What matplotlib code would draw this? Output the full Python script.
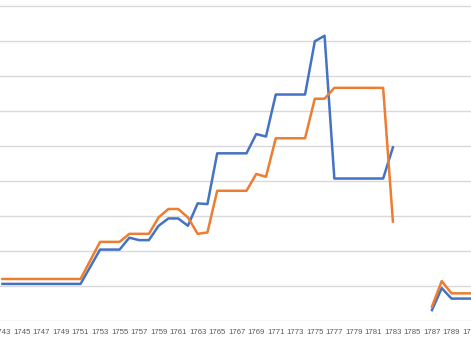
import matplotlib.pyplot as plt
import numpy as np

nan = np.nan
years = list(range(1743, 1792))
blue = [10.6, 10.6, 10.6, 10.6, 10.6, 10.6, 10.6, 10.6, 10.6,
        15.5, 20.4, 20.4, 20.4, 23.8, 23.1, 23.1, 27.2, 29.3, 29.3, 27.2,
        33.6, 33.4, 47.9, 47.9, 47.9, 47.9, 53.4, 52.7, 64.7, 64.7, 64.7,
        64.7, 79.9, 81.5, 40.7, 40.7, 40.7, 40.7, 40.7, 40.7, 49.6,
        nan, nan, nan, 3.1, 9.4, 6.4, 6.4, 6.4]
orange = [12.0, 12.0, 12.0, 12.0, 12.0, 12.0, 12.0, 12.0, 12.0,
          17.3, 22.6, 22.6, 22.6, 24.9, 24.9, 24.9, 29.6, 32.0, 32.0, 29.6,
          24.9, 25.3, 37.2, 37.2, 37.2, 37.2, 42.0, 41.2, 52.2, 52.2, 52.2,
          52.2, 63.5, 63.5, 66.6, 66.6, 66.6, 66.6, 66.6, 66.6, 28.4,
          nan, nan, nan, 4.1, 11.4, 7.9, 7.9, 7.9]
tick_years = years[::2]

fig = plt.figure(figsize=(4.71, 3.45), dpi=100)
ax = fig.add_axes([0, 24 / 345, 1, 321 / 345])

ax.plot(years, blue, color='#4472C4', lw=1.8, solid_joinstyle='round')
ax.plot(years, orange, color='#ED7D31', lw=1.8, solid_joinstyle='round')

ax.set_xlim(1742.75, 1790.66)
ax.set_ylim(0, 91.7)
ax.set_yticks(np.arange(0, 91, 10))
ax.yaxis.grid(True, color='#D9D9D9', lw=1)
ax.set_axisbelow(True)
ax.tick_params(axis='y', left=False, labelleft=False)
ax.set_xticks(tick_years)
ax.set_xticklabels([str(y) for y in tick_years], fontsize=5.6,
                   color='#595959', family='Liberation Sans')
ax.tick_params(axis='x', length=0, pad=5.5)
for s in ['top', 'left', 'right', 'bottom']:
    ax.spines[s].set_visible(False)

fig.savefig('out.png', dpi=100)
